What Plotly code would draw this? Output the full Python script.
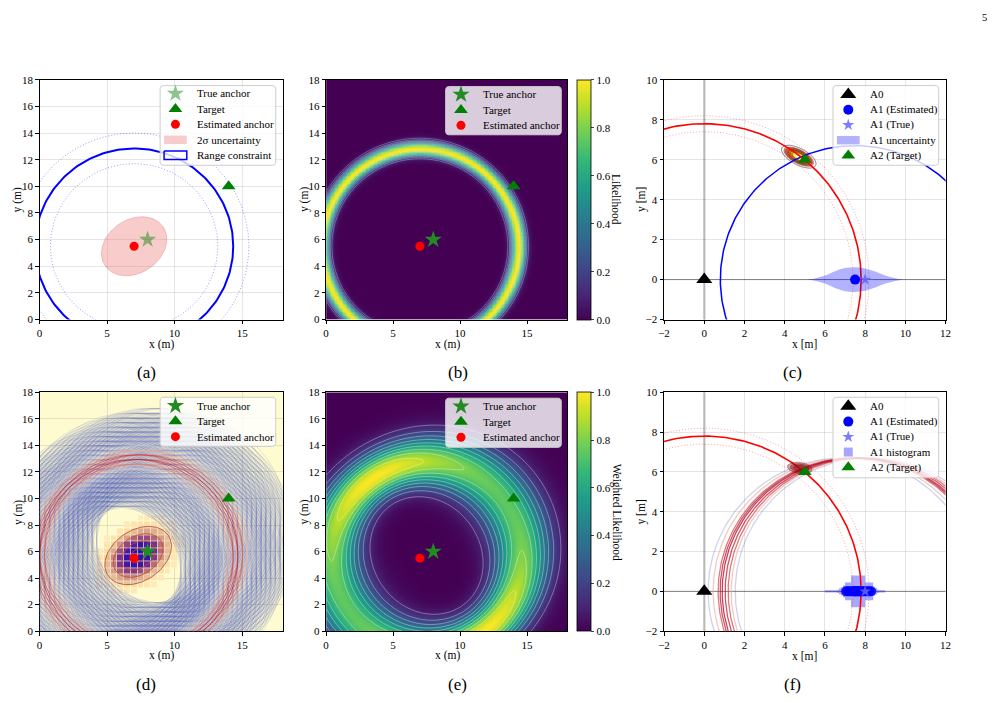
import numpy as np
import plotly.graph_objects as go

W, H = 1001, 704
FONT = "Liberation Serif, Times New Roman, serif"

# ---------------- data ----------------
# panels (a), (b), (d), (e)
TRUE_ANCHOR = [8.0, 6.0]
TARGET = [14.0, 10.0]
EST_ANCHOR = [7.0, 5.5]
RANGE_R = 7.34
RANGE_R_BOUNDS = [6.2, 8.5]
UNC_SEMI_AXES = [2.6, 2.0]      # 2-sigma ellipse
UNC_ANGLE = 35.0
RING_SIGMA = 0.36
B_LEVELS = [0.1, 0.9, 0.1]
D_CENTER = [7.3, 5.7]
D_SIGMA = [1.35, 0.95]
D_GRID_STEP = 0.35
D_SAMPLE_EXTENT = 3.5
D_CONTOUR_K = [2.0, 1.5, 1.0, 0.5]
E_CENTER = [7.5, 5.7]
E_R = 7.1
E_SIGMA = [1.5, 1.1]
E_LEVELS = [0.1, 0.9, 0.1]

# panels (c), (f)
A0 = [0.0, 0.0]
A1_EST = [7.5, 0.0]
A1_TRUE = [8.0, 0.0]
A2 = [5.0, 6.0]
R_A0 = 7.8
R_A0_BOUNDS = [7.4, 8.2]
R_A1 = 6.7
UNC_X = [5.1, 5.5, 6.0, 6.5, 7.0, 7.5, 8.0, 8.5, 9.0, 9.5, 9.9]
UNC_H = [0.0, 0.06, 0.2, 0.42, 0.58, 0.62, 0.56, 0.4, 0.2, 0.07, 0.0]
BLOB_C = [4.7, 6.15]
BLOB_S = [0.42, 0.18]
BLOB_ANG = -28.0
F_RING_CX = [6.89, 7.14, 7.39, 7.49, 7.59, 7.74, 7.89, 8.04, 8.24]
F_RING_W = [0.05, 0.7, 0.9, 0.97, 1.0, 0.97, 0.9, 0.7, 0.05]
F_BLOB_C = [4.75, 6.2]
F_BLOB_AXES = [0.62, 0.28]
F_BLOB_K = [1.0, 0.75, 0.5]
F_BLOB_ANG = -8.0
HIST_X = [6.05, 6.15, 6.25, 6.35, 6.45, 6.55, 6.65, 6.75, 6.85, 6.95, 7.05, 7.15, 7.25, 7.35, 7.45,
          7.55, 7.65, 7.75, 7.85, 7.95, 8.05, 8.15, 8.25, 8.35, 8.45, 8.55, 8.65, 8.75, 8.85, 8.95]
HIST_H = [0.06, 0.06, 0.06, 0.06, 0.06, 0.06, 0.08, 0.15, 0.2, 0.3, 0.45, 0.45, 0.45, 0.8, 0.8,
          0.8, 0.8, 0.8, 0.8, 0.8, 0.45, 0.45, 0.45, 0.45, 0.2, 0.15, 0.08, 0.06, 0.06, 0.06]
SAMPLE_X = [7.05, 7.15, 7.25, 7.35, 7.45, 7.5, 7.55, 7.6, 7.65, 7.7, 7.75, 7.8, 7.85, 7.9, 8.0, 8.1, 8.2, 8.3]

LEG_AB = ['True anchor', 'Target', 'Estimated anchor', '2σ uncertainty', 'Range constraint']
LEG_CF_C = ['A0', 'A1 (Estimated)', 'A1 (True)', 'A1 uncertainty', 'A2 (Target)']
LEG_CF_F = ['A0', 'A1 (Estimated)', 'A1 (True)', 'A1 histogram', 'A2 (Target)']

PANELS = {1: (34, 280, 75, 319), 2: (324, 568, 75, 319), 3: (666, 951, 75, 319),
          4: (34, 280, 393, 636), 5: (324, 568, 393, 636), 6: (666, 951, 393, 636)}
DOT = '1px,2px'
TICK_FS, TITLE_FS, LEG_FS, CAP_FS = 11, 11.5, 11, 17


# ---------------- helpers ----------------
def ellipse_pts(cx, cy, a, b, ang, n=120):
    t = np.linspace(0, 2 * np.pi, n)
    c, s = np.cos(np.radians(ang)), np.sin(np.radians(ang))
    return cx + a * np.cos(t) * c - b * np.sin(t) * s, cy + a * np.cos(t) * s + b * np.sin(t) * c


def circle_pts(cx, cy, r, n=240):
    return ellipse_pts(cx, cy, r, r, 0, n)


def ax(i):
    s = '' if i == 1 else str(i)
    return dict(xaxis='x' + s, yaxis='y' + s)


CW = [(0.0, (59, 76, 192)), (0.5, (221, 221, 221)), (0.75, (244, 154, 123)), (1.0, (180, 4, 38))]


def coolwarm(t, alpha):
    t = min(max(t, 0), 1)
    for (t0, c0), (t1, c1) in zip(CW[:-1], CW[1:]):
        if t <= t1:
            f = (t - t0) / (t1 - t0)
            c = [int(round(c0[k] + f * (c1[k] - c0[k]))) for k in range(3)]
            return 'rgba(%d,%d,%d,%.3f)' % (c[0], c[1], c[2], alpha)
    return 'rgba(180,4,38,%.3f)' % alpha


def mahal(X, Y, c, sig, ang):
    cs, sn = np.cos(np.radians(ang)), np.sin(np.radians(ang))
    dx, dy = X - c[0], Y - c[1]
    u = dx * cs + dy * sn
    v = -dx * sn + dy * cs
    return np.sqrt((u / sig[0]) ** 2 + (v / sig[1]) ** 2)


traces = []
anns = []
GREEN = 'green'
FGREEN = 'rgb(34,139,34)'
STAR_A = 'rgba(0,128,0,0.45)'
M_STAR = dict(symbol='star', size=13)
M_TRI = dict(symbol='triangle-up', size=12, color=GREEN)
M_DOT = dict(symbol='circle', size=9, color='red')
M_A0 = dict(symbol='triangle-up', size=14, color='black')
M_A1T = dict(symbol='star', size=9, color='rgba(100,100,255,0.85)')
M_A1E = dict(symbol='circle', size=10, color='blue')
UNC_FILL = 'rgba(240,128,128,0.4)'
A1U_FILL = 'rgba(0,0,255,0.3)'
HIST_FILL = 'rgba(0,0,255,0.35)'


def anchor_markers(i, star_color):
    return [go.Scatter(x=[TRUE_ANCHOR[0]], y=[TRUE_ANCHOR[1]], mode='markers', name=LEG_AB[0],
                       marker=dict(color=star_color, **M_STAR), **ax(i)),
            go.Scatter(x=[TARGET[0]], y=[TARGET[1]], mode='markers', name=LEG_AB[1], marker=M_TRI, **ax(i)),
            go.Scatter(x=[EST_ANCHOR[0]], y=[EST_ANCHOR[1]], mode='markers', name=LEG_AB[2], marker=M_DOT, **ax(i))]


# ---------------- panel (a) ----------------
for r in RANGE_R_BOUNDS:
    x, y = circle_pts(EST_ANCHOR[0], EST_ANCHOR[1], r)
    traces.append(go.Scatter(x=x, y=y, mode='lines', line=dict(color='rgba(0,0,255,0.5)', width=0.8, dash=DOT),
                             hoverinfo='skip', **ax(1)))
x, y = circle_pts(EST_ANCHOR[0], EST_ANCHOR[1], RANGE_R)
traces.append(go.Scatter(x=x, y=y, mode='lines', line=dict(color='blue', width=2), name=LEG_AB[4], **ax(1)))
x, y = ellipse_pts(EST_ANCHOR[0], EST_ANCHOR[1], UNC_SEMI_AXES[0], UNC_SEMI_AXES[1], UNC_ANGLE)
traces.append(go.Scatter(x=x, y=y, mode='lines', fill='toself', fillcolor=UNC_FILL,
                         line=dict(color='rgba(220,110,110,0.35)', width=1), name=LEG_AB[3], **ax(1)))
traces += anchor_markers(1, STAR_A)

# ---------------- panel (b) ----------------
gx = np.round(np.arange(0, 18.0001, 0.1), 2)
GX, GY = np.meshgrid(gx, gx)
Db = np.hypot(GX - EST_ANCHOR[0], GY - EST_ANCHOR[1])
Zb = np.exp(-(Db - RANGE_R) ** 2 / (2 * RING_SIGMA ** 2))


def cbar(top, bottom):
    return dict(x=578 / W, xanchor='left', y=1 - (top + bottom) / 2 / H, yanchor='middle',
                len=(bottom - top) / H, lenmode='fraction', thickness=14, thicknessmode='pixels',
                outlinewidth=0.8, outlinecolor='black', ticks='outside', ticklen=3.5, tickwidth=0.8,
                tickvals=[0, 0.2, 0.4, 0.6, 0.8, 1.0], tickformat='.1f',
                tickfont=dict(size=TICK_FS, family=FONT), xpad=0, ypad=0)


traces.append(go.Heatmap(x=gx, y=gx, z=np.round(Zb, 4), colorscale='Viridis', zmin=0, zmax=1, zsmooth='best',
                         colorbar=cbar(75, 319), hoverinfo='skip', **ax(2)))
traces.append(go.Contour(x=gx, y=gx, z=np.round(Zb, 4), showscale=False, hoverinfo='skip',
                         contours=dict(coloring='none', start=B_LEVELS[0], end=B_LEVELS[1], size=B_LEVELS[2]),
                         line=dict(color='rgba(255,255,255,0.35)', width=0.8), **ax(2)))
traces += anchor_markers(2, FGREEN)

# ---------------- panel (c) ----------------
x, y = circle_pts(A1_EST[0], A1_EST[1], R_A1, 400)
traces.append(go.Scatter(x=x, y=y, mode='lines', line=dict(color='blue', width=1.5), hoverinfo='skip', **ax(3)))


def a0_circles(i):
    out = []
    for r in R_A0_BOUNDS:
        x, y = circle_pts(A0[0], A0[1], r, 400)
        out.append(go.Scatter(x=x, y=y, mode='lines', line=dict(color='rgba(255,0,0,0.45)', width=0.8, dash=DOT),
                              hoverinfo='skip', **ax(i)))
    x, y = circle_pts(A0[0], A0[1], R_A0, 400)
    out.append(go.Scatter(x=x, y=y, mode='lines', line=dict(color='red', width=1.6), hoverinfo='skip', **ax(i)))
    return out


traces += a0_circles(3)
ux = UNC_X + UNC_X[::-1]
uy = UNC_H + [-h for h in UNC_H[::-1]]
traces.append(go.Scatter(x=ux, y=uy, mode='lines', fill='toself', fillcolor=A1U_FILL,
                         line=dict(width=0, shape='spline', color='rgba(0,0,255,0)'), name=LEG_CF_C[3], **ax(3)))
bx = np.round(np.arange(3.2, 6.3, 0.02), 3)
by = np.round(np.arange(5.1, 7.3, 0.02), 3)
BX, BY = np.meshgrid(bx, by)
Zc = np.exp(-0.5 * mahal(BX, BY, BLOB_C, BLOB_S, BLOB_ANG) ** 2)
traces.append(go.Contour(x=bx, y=by, z=np.round(Zc, 4), showscale=False, hoverinfo='skip',
                         contours=dict(coloring='fill', start=0.14, end=0.92, size=0.13),
                         line=dict(width=0), zmin=0, zmax=1,
                         colorscale=[[0, 'rgba(255,255,255,0)'], [0.08, 'rgba(255,255,255,0)'],
                                     [0.14, 'rgba(200,20,0,0.55)'], [0.35, 'rgba(240,80,0,0.8)'],
                                     [0.6, 'rgba(255,170,0,0.9)'], [0.8, 'rgba(255,235,60,1)'],
                                     [1, 'rgba(255,255,225,1)']], **ax(3)))
traces.append(go.Contour(x=bx, y=by, z=np.round(Zc, 4), showscale=False, hoverinfo='skip',
                         contours=dict(coloring='none', start=0.08, end=0.68, size=0.15),
                         line=dict(color='rgba(50,50,50,0.8)', width=0.8), **ax(3)))


def cf_markers(i):
    return [go.Scatter(x=[A0[0]], y=[A0[1]], mode='markers', name='A0', marker=M_A0, **ax(i)),
            go.Scatter(x=[A1_TRUE[0]], y=[A1_TRUE[1]], mode='markers', name='A1 (True)', marker=M_A1T, **ax(i)),
            go.Scatter(x=[A1_EST[0]], y=[A1_EST[1]], mode='markers', name='A1 (Estimated)', marker=M_A1E, **ax(i)),
            go.Scatter(x=[A2[0]], y=[A2[1]], mode='markers', name='A2 (Target)', marker=M_TRI, **ax(i))]


traces += cf_markers(3)

# ---------------- panel (d) ----------------
cxs = np.round(np.arange(0.0, 14.01, D_GRID_STEP), 3)
cys = np.round(np.arange(0.0, 12.01, D_GRID_STEP), 3)
CX, CY = np.meshgrid(cxs, cys)
M = mahal(CX, CY, D_CENTER, D_SIGMA, UNC_ANGLE)
sel = M <= D_SAMPLE_EXTENT
pts = sorted(zip(np.exp(-0.5 * M[sel] ** 2), CX[sel], CY[sel]))
hx = np.round(np.arange(4.5, 10.51, 0.5), 2)
hy = np.round(np.arange(2.5, 9.01, 0.5), 2)
HX, HY = np.meshgrid(hx, hy)
Wd = np.exp(-0.5 * mahal(HX, HY, D_CENTER, D_SIGMA, UNC_ANGLE) ** 2)
Wd = np.where(Wd < 0.03, np.nan, np.round(Wd, 3))
traces.append(go.Heatmap(x=hx, y=hy, z=Wd, zmin=0, zmax=1, showscale=False, xgap=1, ygap=1, hoverinfo='skip',
                         colorscale=[[0, 'rgb(255,238,192)'], [0.2, 'rgb(252,210,150)'], [0.4, 'rgb(215,125,115)'],
                                     [0.6, 'rgb(110,40,170)'], [0.8, 'rgb(30,15,215)'], [1, 'rgb(10,10,230)']],
                         **ax(4)))
for w, cx, cy in pts:
    x, y = circle_pts(cx, cy, RANGE_R, 160)
    t = w ** 2
    traces.append(go.Scatter(x=np.round(x, 3), y=np.round(y, 3), mode='lines',
                             line=dict(color=coolwarm(t, 0.14 + 0.45 * t), width=1),
                             hoverinfo='skip', **ax(4)))
for k in D_CONTOUR_K:
    x, y = ellipse_pts(D_CENTER[0], D_CENTER[1], k * D_SIGMA[0], k * D_SIGMA[1], UNC_ANGLE)
    traces.append(go.Scatter(x=x, y=y, mode='lines', fill='toself', fillcolor='rgba(100,20,110,0.13)',
                             line=dict(color='rgba(180,80,50,0.85)', width=1), hoverinfo='skip', **ax(4)))
traces += anchor_markers(4, FGREEN)

# ---------------- panel (e) ----------------
De = np.hypot(GX - E_CENTER[0], GY - E_CENTER[1])
De = np.where(De == 0, 1e-6, De)
ca, sa = np.cos(np.radians(UNC_ANGLE)), np.sin(np.radians(UNC_ANGLE))
ux_, uy_ = (GX - E_CENTER[0]) / De, (GY - E_CENTER[1]) / De
p1 = ux_ * ca + uy_ * sa
p2 = -ux_ * sa + uy_ * ca
se2 = 0.35 ** 2 + (E_SIGMA[0] * p1) ** 2 + (E_SIGMA[1] * p2) ** 2
Ze = 0.35 / np.sqrt(se2) * np.exp(-(De - E_R) ** 2 / (2 * se2))
Ze = Ze / Ze.max()
traces.append(go.Heatmap(x=gx, y=gx, z=np.round(Ze, 4), colorscale='Viridis', zmin=0, zmax=1, zsmooth='best',
                         colorbar=cbar(393, 636), hoverinfo='skip', **ax(5)))
traces.append(go.Contour(x=gx, y=gx, z=np.round(Ze, 4), showscale=False, hoverinfo='skip',
                         contours=dict(coloring='none', start=E_LEVELS[0], end=E_LEVELS[1], size=E_LEVELS[2]),
                         line=dict(color='rgba(255,255,255,0.45)', width=0.8), **ax(5)))
traces += anchor_markers(5, FGREEN)

# ---------------- panel (f) ----------------
order = np.argsort(F_RING_W)
for j in order:
    w = F_RING_W[j]
    x, y = circle_pts(F_RING_CX[j], 0.0, R_A1, 400)
    traces.append(go.Scatter(x=x, y=y, mode='lines', line=dict(color=coolwarm(w, 0.25 + 0.5 * w), width=1.3),
                             hoverinfo='skip', **ax(6)))
traces += a0_circles(6)
for k in F_BLOB_K:
    x, y = ellipse_pts(F_BLOB_C[0], F_BLOB_C[1], k * F_BLOB_AXES[0], k * F_BLOB_AXES[1], F_BLOB_ANG)
    traces.append(go.Scatter(x=x, y=y, mode='lines', fill='toself', fillcolor='rgba(150,10,20,0.4)',
                             line=dict(color='rgba(120,0,0,0.45)', width=0.8), hoverinfo='skip', **ax(6)))
traces.append(go.Bar(x=HIST_X, y=[2 * h for h in HIST_H], base=[-h for h in HIST_H], width=0.1,
                     marker=dict(color=HIST_FILL, line=dict(width=0)), name=LEG_CF_F[3], **ax(6)))
traces.append(go.Scatter(x=SAMPLE_X, y=[0.0] * len(SAMPLE_X), mode='markers',
                         marker=dict(symbol='circle', size=10, color='rgba(0,0,255,0.85)'), hoverinfo='skip', **ax(6)))
traces += cf_markers(6)


# ---------------- legends (drawn on a full-page overlay axis, pixel units) ----------------
def ann(text, x, y, size=TITLE_FS, angle=0, anchor='center'):
    return dict(text=text, x=x / W, y=1 - y / H, xref='paper', yref='paper', showarrow=False,
                xanchor=anchor, yanchor='middle', textangle=angle, font=dict(size=size, family=FONT))


OV = dict(xaxis='x7', yaxis='y7', hoverinfo='skip')


def rounded_box(l, r, t, b, rad=3):
    xs, ys = [], []
    for (cx, cy, a0) in [(r - rad, t + rad, -90), (r - rad, b - rad, 0), (l + rad, b - rad, 90), (l + rad, t + rad, 180)]:
        a = np.radians(np.linspace(a0, a0 + 90, 6))
        xs += list(cx + rad * np.cos(a))
        ys += list(cy + rad * np.sin(a))
    return xs + xs[:1], ys + ys[:1]


def add_legend(box, sym_x, text_x, y0, step, entries):
    l, r, t, b = box
    x, y = rounded_box(l, r, t, b)
    traces.append(go.Scatter(x=x, y=y, mode='lines', fill='toself', fillcolor='rgba(255,255,255,0.8)',
                             line=dict(color='rgba(204,204,204,1)', width=1), **OV))
    for k, (kind, style, label) in enumerate(entries):
        yc = y0 + k * step
        if kind == 'marker':
            traces.append(go.Scatter(x=[sym_x], y=[yc], mode='markers', marker=style, **OV))
        else:
            fill, line = style
            traces.append(go.Scatter(x=[sym_x - 11.5, sym_x + 11.5, sym_x + 11.5, sym_x - 11.5, sym_x - 11.5],
                                     y=[yc - 4.3, yc - 4.3, yc + 4.3, yc + 4.3, yc - 4.3], mode='lines',
                                     fill='toself', fillcolor=fill,
                                     line=dict(color=line, width=1.5 if line != 'rgba(0,0,0,0)' else 0), **OV))
        anns.append(ann(label, text_x, yc, size=LEG_FS, anchor='left'))


ab_entries = lambda star: [('marker', dict(color=star, **M_STAR), LEG_AB[0]), ('marker', M_TRI, LEG_AB[1]),
                           ('marker', M_DOT, LEG_AB[2])]
add_legend((156, 273, 81, 162), 171.5, 191.5, 89, 15.7,
           ab_entries(STAR_A) + [('patch', (UNC_FILL, 'rgba(0,0,0,0)'), LEG_AB[3]),
                                 ('patch', ('rgba(0,0,0,0)', 'blue'), LEG_AB[4])])
add_legend((445, 562, 82, 131), 460.5, 480.5, 90, 15.7, ab_entries(FGREEN))
add_legend((156, 273, 398, 448), 171.5, 191.5, 406.7, 15.7, ab_entries(FGREEN))
add_legend((445, 562, 399, 449), 460.5, 480.5, 407.3, 15.7, ab_entries(FGREEN))
cf_common = [('marker', M_A0, 'A0'), ('marker', M_A1E, 'A1 (Estimated)'), ('marker', M_A1T, 'A1 (True)')]
add_legend((837, 944, 81, 162), 852.5, 872.5, 90, 15.5,
           cf_common + [('patch', (A1U_FILL, 'rgba(0,0,0,0)'), LEG_CF_C[3]), ('marker', M_TRI, LEG_CF_C[4])])
add_legend((837, 944, 398, 480), 852.5, 872.5, 407.3, 15.5,
           cf_common + [('marker', dict(symbol='square', size=9, color=HIST_FILL), LEG_CF_F[3]),
                        ('marker', M_TRI, LEG_CF_F[4])])

fig = go.Figure(traces)

# ---------------- layout ----------------
layout = dict(width=W, height=H, margin=dict(l=0, r=0, t=0, b=0, pad=0), paper_bgcolor='white',
              plot_bgcolor='rgba(0,0,0,0)', font=dict(family=FONT, size=TITLE_FS, color='black'),
              showlegend=False, barmode='overlay')
for i, (l, r, t, b) in PANELS.items():
    s = '' if i == 1 else str(i)
    if i in (3, 6):
        xr, yr, xt, yt = [-2, 12], [-2, 10], list(range(-2, 13, 2)), list(range(-2, 11, 2))
    else:
        xr, yr, xt, yt = [0, 18], [0, 18], [0, 5, 10, 15], list(range(0, 19, 2))
    grid = 'rgba(215,215,215,0.4)' if i in (2, 5) else 'rgba(0,0,0,0.1)'
    layer = 'above traces' if i in (2, 5) else 'below traces'
    common = dict(showline=True, mirror=True, linecolor='black', linewidth=1, ticks='outside', ticklen=3.5,
                  tickwidth=0.8, tickcolor='black', showgrid=True, gridcolor=grid, gridwidth=0.8, zeroline=False,
                  tickfont=dict(size=TICK_FS, family=FONT), layer=layer, fixedrange=True)
    layout['xaxis' + s] = dict(domain=[l / W, r / W], anchor='y' + s, range=xr, tickvals=xt, **common)
    layout['yaxis' + s] = dict(domain=[1 - b / H, 1 - t / H], anchor='x' + s, range=yr, tickvals=yt, **common)
layout['xaxis7'] = dict(domain=[0, 1], range=[0, W], visible=False, fixedrange=True, anchor='y7')
layout['yaxis7'] = dict(domain=[0, 1], range=[H, 0], visible=False, fixedrange=True, anchor='x7')

shapes = [dict(type='rect', xref='x4 domain', yref='y4 domain', x0=0, x1=1, y0=0, y1=1,
               fillcolor='rgb(255,251,208)', line=dict(width=0), layer='below')]
for s in ('3', '6'):
    shapes.append(dict(type='line', xref='x%s domain' % s, yref='y' + s, x0=0, x1=1, y0=0, y1=0,
                       line=dict(color='rgba(0,0,0,0.45)', width=1), layer='below'))
    shapes.append(dict(type='line', xref='x' + s, yref='y%s domain' % s, x0=0, x1=0, y0=0, y1=1,
                       line=dict(color='rgba(0,0,0,0.2)', width=2.5), layer='below'))
layout['shapes'] = shapes

for (xc, yl, xl, cap, capx, capy, ylab, yc) in [
    (157, 344, 12, '(a)', 142, 373, 'y (m)', 197), (447, 344, 302, '(b)', 457, 373, 'y (m)', 197),
    (808, 344, 643, '(c)', 796, 373, 'y [m]', 197),
    (157, 661, 12, '(d)', 142, 690, 'y (m)', 515), (447, 661, 302, '(e)', 457, 690, 'y (m)', 515),
    (808, 661, 643, '(f)', 796, 690, 'y [m]', 515)]:
    anns.append(ann('x [m]' if cap in ('(c)', '(f)') else 'x (m)', xc, yl))
    anns.append(ann(ylab, xl, yc, angle=-90))
    anns.append(ann(cap, capx, capy, size=CAP_FS))
anns.append(ann('Likelihood', 618, 197, angle=90))
anns.append(ann('Weighted Likelihood', 618, 515, angle=90))
anns.append(ann('5', 990, 12, size=10.5))
layout['annotations'] = anns

fig.update_layout(**layout)
fig.write_html("out.html")
